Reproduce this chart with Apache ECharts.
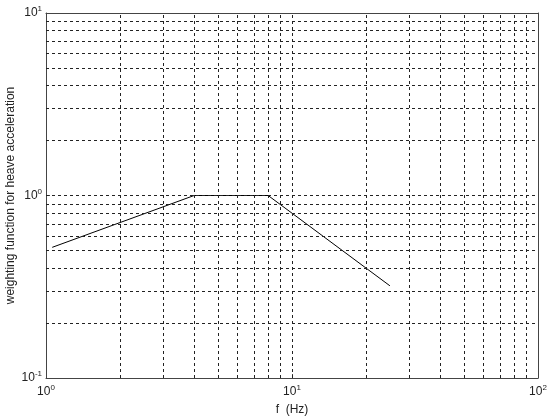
<!DOCTYPE html>
<html>
<head>
<meta charset="utf-8">
<script src="https://cdn.jsdelivr.net/npm/echarts@6/dist/echarts.min.js"></script>
<style>
html, body { margin: 0; padding: 0; background: #fff; }
#main { width: 550px; height: 419px; }
</style>
</head>
<body>
<div id="main"></div>
<script>
// weighting curve
var freq = [1.06, 4, 8, 25];
var weight = [0.52, 1, 1, 0.32];

// dashed grid positions (log decades)
var gridX = [2, 3, 4, 5, 6, 7, 8, 9, 10, 20, 30, 40, 50, 60, 70, 80, 90];
var gridY = [0.2, 0.3, 0.4, 0.5, 0.6, 0.7, 0.8, 0.9, 1, 2, 3, 4, 5, 6, 7, 8, 9];

var xLabels = {1: ['10', '0'], 10: ['10', '1'], 100: ['10', '2']};
var yLabels = {0.1: ['10', '-1'], 1: ['10', '0'], 10: ['10', '1']};

function powLabel(map) {
	return function (v) {
		var k = map[+v.toPrecision(3)];
		if (!k) return '';
		return '{b|' + k[0] + '}{s|' + k[1] + '}';
	};
}

var richText = {
	b: {fontSize: 12, color: '#222', fontFamily: 'Liberation Sans'},
	s: {fontSize: 8, color: '#222', fontFamily: 'Liberation Sans', padding: [0, 0, 8, 0]}
};

var chart = echarts.init(document.getElementById('main'));

var lineData = [];
for (var i = 0; i < freq.length; i++) lineData.push([freq[i], weight[i]]);

var markData = [];
gridX.forEach(function (v) { markData.push({xAxis: v}); });
gridY.forEach(function (v) { markData.push({yAxis: v}); });

var axisLine = {show: true, lineStyle: {color: '#444', width: 1}};

var option = {
	animation: false,
	backgroundColor: '#fff',
	grid: {left: 46, right: 12, top: 13, bottom: 41, containLabel: false, outerBoundsMode: 'none'},
	xAxis: [
		{
			type: 'log', logBase: 10, min: 1, max: 100,
			name: 'f  (Hz)', nameLocation: 'middle', nameGap: 26, nameMoveOverlap: false,
			nameTextStyle: {fontSize: 12, color: '#222', fontFamily: 'Liberation Sans'},
			axisLine: axisLine,
			axisTick: {show: true, inside: true, length: 4, lineStyle: {color: '#444'}},
			axisLabel: {formatter: powLabel(xLabels), rich: richText, margin: 6, showMinLabel: true, showMaxLabel: true},
			splitLine: {show: false}
		},
		{
			type: 'log', logBase: 10, min: 1, max: 100, position: 'top',
			axisLine: axisLine,
			axisTick: {show: false},
			axisLabel: {show: false},
			splitLine: {show: false}
		}
	],
	yAxis: [
		{
			type: 'log', logBase: 10, min: 0.1, max: 10,
			name: 'weighting function for heave acceleration', nameLocation: 'middle', nameGap: 29, nameMoveOverlap: false,
			nameTextStyle: {fontSize: 12, color: '#222', fontFamily: 'Liberation Sans'},
			axisLine: axisLine,
			axisTick: {show: true, inside: true, length: 4, lineStyle: {color: '#444'}},
			axisLabel: {formatter: powLabel(yLabels), rich: richText, margin: 4, showMinLabel: true, showMaxLabel: true},
			splitLine: {show: false}
		},
		{
			type: 'log', logBase: 10, min: 0.1, max: 10, position: 'right',
			axisLine: axisLine,
			axisTick: {show: false},
			axisLabel: {show: false},
			splitLine: {show: false}
		}
	],
	series: [
		{
			type: 'line',
			data: lineData,
			symbol: 'none',
			lineStyle: {color: '#000', width: 1},
			markLine: {
				silent: true,
				symbol: 'none',
				label: {show: false},
				lineStyle: {color: '#222', width: 1, type: [3, 3]},
				emphasis: {disabled: true},
				data: markData
			}
		}
	]
};
chart.setOption(option);
</script>
</body>
</html>
